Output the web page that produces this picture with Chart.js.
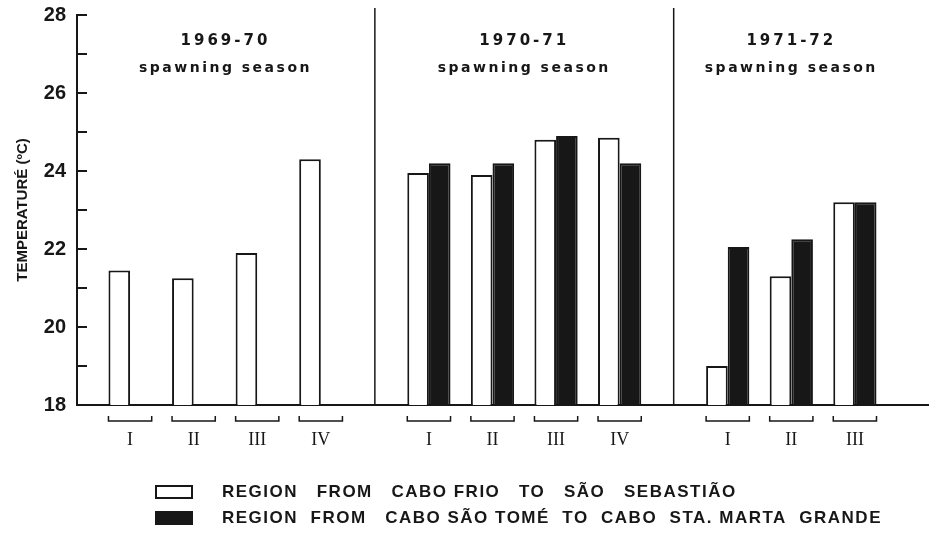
<!DOCTYPE html>
<html>
<head>
<meta charset="utf-8">
<script src="https://cdn.jsdelivr.net/npm/chart.js@4.4.1/dist/chart.umd.min.js"></script>
<style>
  html, body { margin: 0; padding: 0; background: #fff; }
</style>
</head>
<body>
<canvas id="tempChart" width="943" height="542"></canvas>
<script>
// Seasons and the quarters sampled in each
const seasons = ['1969-70', '1970-71', '1971-72'];
const seasonSubtitle = 'spawning season';
const quarters = [['I', 'II', 'III', 'IV'], ['I', 'II', 'III', 'IV'], ['I', 'II', 'III']];

// Mean temperature (°C) per quarter
const frioToSebastiao = [21.45, 21.25, 21.9, 24.3, 23.95, 23.9, 24.8, 24.85, 19.0, 21.3, 23.2];
const tomeToMarta = [null, null, null, null, 24.2, 24.2, 24.9, 24.2, 22.05, 22.25, 23.2];

const seriesLabels = [
  'REGION   FROM   CABO FRIO   TO   SÃO   SEBASTIÃO',
  'REGION  FROM   CABO SÃO TOMÉ  TO  CABO  STA. MARTA  GRANDE'
];
const yMin = 18, yMax = 28;

const ink = '#171717';

// x slot for each quarter, with a wider gap between seasons
const seasonGap = 1.7;
const xPos = [], xLabels = [], seasonOf = [];
let start = 0;
quarters.forEach((qs, s) => {
  qs.forEach((q, i) => { xPos.push(start + i); xLabels.push(q); seasonOf.push(s); });
  start += qs.length - 1 + seasonGap;
});

// Extra drawing: inward y ticks, season separators, brackets, season titles, legend
const decorations = {
  id: 'decorations',
  afterDraw(chart) {
    const { ctx, chartArea, scales } = chart;
    const x = scales.x, y = scales.y;
    ctx.save();
    ctx.strokeStyle = ink;
    ctx.fillStyle = ink;

    // y ticks pointing into the plot
    ctx.lineWidth = 2;
    for (let v = yMin + 1; v <= yMax; v++) {
      const py = y.getPixelForValue(v);
      ctx.beginPath();
      ctx.moveTo(chartArea.left - 1, py);
      ctx.lineTo(chartArea.left + 10, py);
      ctx.stroke();
    }

    // vertical separators between seasons
    ctx.lineWidth = 1.5;
    for (let i = 1; i < xPos.length; i++) {
      if (seasonOf[i] !== seasonOf[i - 1]) {
        const px = (x.getPixelForValue(xPos[i - 1]) + x.getPixelForValue(xPos[i])) / 2;
        ctx.beginPath();
        ctx.moveTo(px, chartArea.top - 7);
        ctx.lineTo(px, chartArea.bottom);
        ctx.stroke();
      }
    }

    // brackets under each quarter
    const bars = chart.getDatasetMeta(0).data;
    const by = chartArea.bottom + 16;
    ctx.lineWidth = 1.5;
    bars.forEach(bar => {
      const left = bar.x - bar.width / 2;
      const right = left + bar.width * 2;
      ctx.beginPath();
      ctx.moveTo(left, by - 5);
      ctx.lineTo(left, by);
      ctx.lineTo(right, by);
      ctx.lineTo(right, by - 5);
      ctx.stroke();
    });

    // season titles
    ctx.textAlign = 'center';
    ctx.textBaseline = 'middle';
    seasons.forEach((name, s) => {
      const idx = seasonOf.map((v, i) => v === s ? i : -1).filter(i => i >= 0);
      const cx = (x.getPixelForValue(xPos[idx[0]]) + x.getPixelForValue(xPos[idx[idx.length - 1]])) / 2;
      ctx.font = 'bold 15px "DejaVu Sans"';
      ctx.letterSpacing = '3px';
      ctx.fillText(name, cx, chartArea.top + 26);
      ctx.font = 'bold 14px "DejaVu Sans"';
      ctx.letterSpacing = '2.5px';
      ctx.fillText(seasonSubtitle, cx, chartArea.top + 53);
    });

    // legend
    ctx.letterSpacing = '1.5px';
    ctx.textAlign = 'left';
    ctx.font = 'bold 17px "Liberation Sans"';
    chart.data.datasets.forEach((ds, i) => {
      const cy = 492 + i * 26;
      ctx.fillStyle = ds.backgroundColor;
      ctx.fillRect(156, cy - 6, 36, 12);
      ctx.lineWidth = 2;
      ctx.strokeStyle = ds.borderColor;
      ctx.strokeRect(156, cy - 6, 36, 12);
      ctx.fillStyle = ink;
      ctx.fillText(ds.label, 222, cy);
    });
    ctx.restore();
  }
};

const ctx = document.getElementById('tempChart').getContext('2d');
const tempChart = new Chart(ctx, {
  type: 'bar',
  data: {
    datasets: [
      {
        label: seriesLabels[0],
        data: xPos.map((v, i) => ({ x: v, y: frioToSebastiao[i] })),
        backgroundColor: '#ffffff',
        borderColor: ink,
        borderWidth: 2,
        borderSkipped: 'bottom'
      },
      {
        label: seriesLabels[1],
        data: xPos.map((v, i) => ({ x: v, y: tomeToMarta[i] })),
        backgroundColor: ink,
        borderColor: ink,
        borderWidth: 2,
        borderSkipped: 'bottom'
      }
    ]
  },
  options: {
    responsive: false,
    animation: false,
    categoryPercentage: 0.68,
    barPercentage: 1,
    layout: { padding: { left: 0, right: 15, top: 15, bottom: 0 } },
    plugins: {
      legend: { display: false },
      tooltip: { enabled: false }
    },
    scales: {
      x: {
        type: 'linear',
        offset: false,
        min: -0.835,
        max: 12.55,
        afterFit: axis => { axis.height = 137; },
        afterBuildTicks: axis => { axis.ticks = xPos.map(v => ({ value: v })); },
        grid: { display: false, drawTicks: false },
        border: { color: ink, width: 2 },
        ticks: {
          autoSkip: false,
          maxRotation: 0,
          padding: 24,
          color: ink,
          font: { family: 'Liberation Serif', size: 18 },
          callback: (v, i) => xLabels[i]
        }
      },
      y: {
        min: yMin,
        max: yMax,
        afterFit: axis => { axis.width = 77; axis.paddingTop = 0; axis.paddingBottom = 0; },
        grid: { drawOnChartArea: false, drawTicks: false },
        border: { color: ink, width: 2 },
        ticks: {
          stepSize: 1,
          padding: 11,
          color: ink,
          font: { family: 'Liberation Sans', size: 20, weight: 'bold' },
          callback: v => (v % 2 === 0 ? v : '')
        },
        title: {
          display: true,
          text: 'TEMPERATURÉ (ºC)',
          color: ink,
          font: { family: 'Liberation Sans', size: 15, weight: 'bold' },
          padding: { top: 14, bottom: 0 }
        }
      }
    }
  },
  plugins: [decorations]
});
</script>
</body>
</html>
